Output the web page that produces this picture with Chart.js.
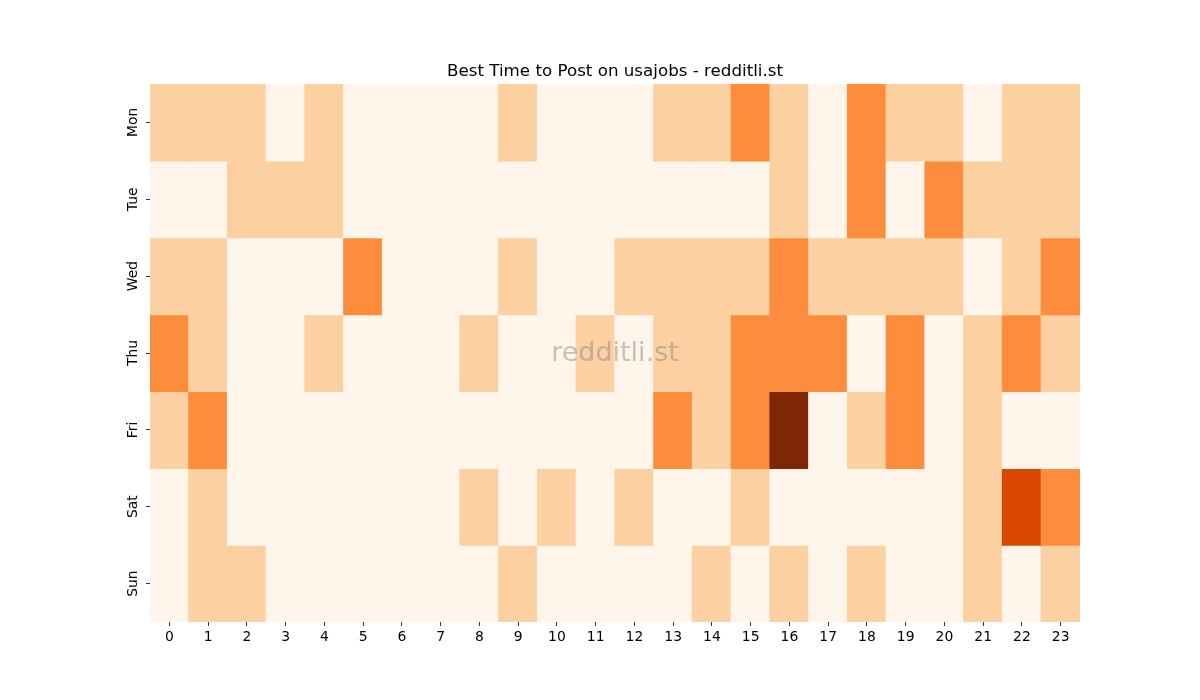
<!DOCTYPE html>
<html>
<head>
<meta charset="utf-8">
<script src="https://cdn.jsdelivr.net/npm/chart.js@4"></script>
<style>
  body { margin: 0; background: #fff; }
  #wrap { width: 1200px; height: 700px; }
</style>
</head>
<body>
<div id="wrap"><canvas id="heat" width="1200" height="700"></canvas></div>
<script>
const hours = ['0','1','2','3','4','5','6','7','8','9','10','11','12','13','14','15','16','17','18','19','20','21','22','23']
const days = ['Mon', 'Tue', 'Wed', 'Thu', 'Fri', 'Sat', 'Sun']

// post counts per hour, one row per day
const mon = [1,1,1,0,1,0,0,0,0,1,0,0,0,1,1,2,1,0,2,1,1,0,1,1]
const tue = [0,0,1,1,1,0,0,0,0,0,0,0,0,0,0,0,1,0,2,0,2,1,1,1]
const wed = [1,1,0,0,0,2,0,0,0,1,0,0,1,1,1,1,2,1,1,1,1,0,1,2]
const thu = [2,1,0,0,1,0,0,0,1,0,0,1,0,1,1,2,2,2,0,2,0,1,2,1]
const fri = [1,2,0,0,0,0,0,0,0,0,0,0,0,2,1,2,4,0,1,2,0,1,0,0]
const sat = [0,1,0,0,0,0,0,0,1,0,1,0,1,0,0,1,0,0,0,0,0,1,3,2]
const sun = [0,1,1,0,0,0,0,0,0,1,0,0,0,0,1,0,1,0,1,0,0,1,0,1]

const rows = [mon, tue, wed, thu, fri, sat, sun]

// Oranges colormap steps for values 0..4
const oranges = ['#fff5eb', '#fdd0a2', '#fd8d3c', '#d94801', '#7f2704']

const datasets = rows.map((row, r) => ({
  label: days[r],
  data: row.map(() => [r, r + 1]),
  backgroundColor: row.map(v => oranges[v]),
  borderWidth: 0,
  inflateAmount: 0.6,
  barPercentage: 1,
  categoryPercentage: 1,
  grouped: false
}))

const extras = {
  id: 'extras',
  afterDraw(chart) {
    const ctx = chart.ctx
    const area = chart.chartArea
    const y = chart.scales.y
    ctx.save()
    // title
    ctx.fillStyle = '#000'
    ctx.font = '16.7px "DejaVu Sans"'
    ctx.textAlign = 'center'
    ctx.textBaseline = 'alphabetic'
    ctx.fillText('Best Time to Post on usajobs - redditli.st', (area.left + area.right) / 2, 76)
    // day labels, rotated like matplotlib
    ctx.font = '13.9px "DejaVu Sans"'
    ctx.textBaseline = 'middle'
    days.forEach((d, i) => {
      const py = y.getPixelForValue(i + 0.5)
      ctx.save()
      ctx.translate(area.left - 17, py)
      ctx.rotate(-Math.PI / 2)
      ctx.fillText(d, 0, 0)
      ctx.restore()
    })
    // watermark
    ctx.fillStyle = 'rgba(128,128,128,0.45)'
    ctx.font = '27px "DejaVu Sans"'
    ctx.fillText('redditli.st', (area.left + area.right) / 2, (area.top + area.bottom) / 2 + 1)
    ctx.restore()
  }
}

new Chart(document.getElementById('heat'), {
  type: 'bar',
  data: { labels: hours, datasets: datasets },
  options: {
    responsive: false,
    animation: false,
    devicePixelRatio: 1,
    layout: { padding: { left: 146, right: 120, top: 84, bottom: 48 } },
    plugins: {
      legend: { display: false },
      title: { display: false },
      tooltip: { enabled: false }
    },
    scales: {
      x: {
        offset: true,
        grid: { offset: false, drawOnChartArea: false, drawTicks: true, tickLength: 4, color: '#000', lineWidth: 0.8 },
        border: { display: false },
        ticks: { color: '#000', font: { family: 'DejaVu Sans', size: 13.9 }, padding: 3, maxRotation: 0, autoSkip: false },
        afterFit(scale) { scale.height = 30 }
      },
      y: {
        type: 'linear',
        min: 0,
        max: 7,
        reverse: true,
        afterBuildTicks(scale) { scale.ticks = days.map((d, i) => ({ value: i + 0.5 })) },
        grid: { drawOnChartArea: false, drawTicks: true, tickLength: 4, color: '#000', lineWidth: 0.8 },
        border: { display: false },
        ticks: { display: false },
        afterFit(scale) { scale.width = 4 }
      }
    }
  },
  plugins: [extras]
})
</script>
</body>
</html>
